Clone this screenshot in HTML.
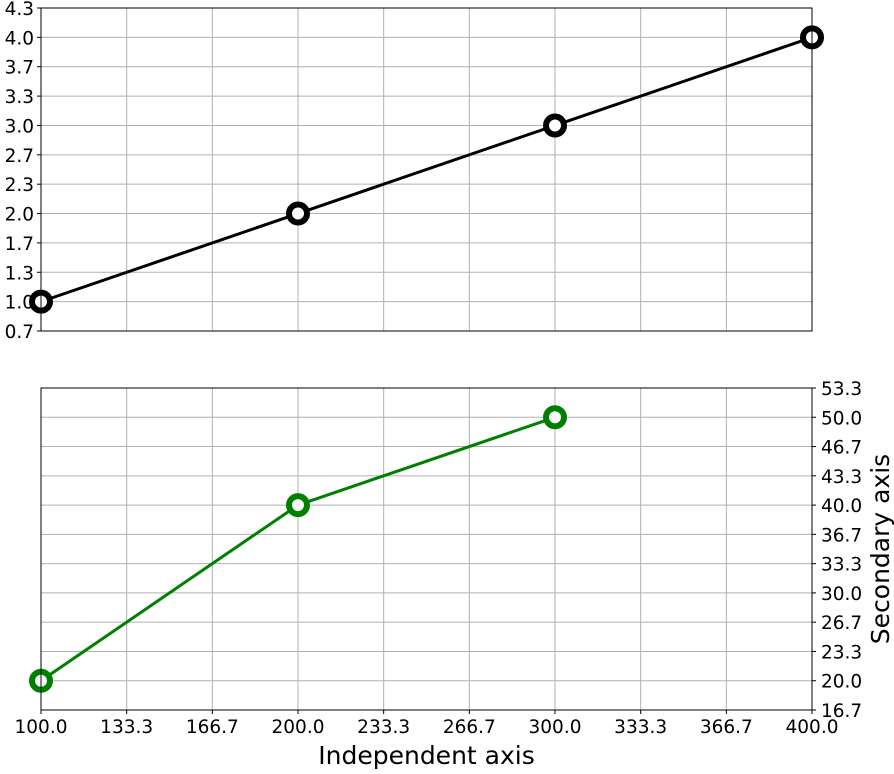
<!DOCTYPE html>
<html><head><meta charset="utf-8"><style>
body{margin:0;background:#fff;}
svg text{font-family:"DejaVu Sans","Liberation Sans",sans-serif;}
</style></head><body>
<svg id="chart" width="894" height="769" xmlns="http://www.w3.org/2000/svg"></svg>
<script>
const xTicks = [100,133.333,166.667,200,233.333,266.667,300,333.333,366.667,400];
const xTickLabels = ["100.0","133.3","166.7","200.0","233.3","266.7","300.0","333.3","366.7","400.0"];
const topTicks = [0.6667,1,1.3333,1.6667,2,2.3333,2.6667,3,3.3333,3.6667,4,4.3333];
const topTickLabels = ["0.7","1.0","1.3","1.7","2.0","2.3","2.7","3.0","3.3","3.7","4.0","4.3"];
const botTicks = [16.667,20,23.333,26.667,30,33.333,36.667,40,43.333,46.667,50,53.333];
const botTickLabels = ["16.7","20.0","23.3","26.7","30.0","33.3","36.7","40.0","43.3","46.7","50.0","53.3"];
const topX = [100,200,300,400];
const topY = [1,2,3,4];
const botX = [100,200,300];
const botY = [20,40,50];

const svg = document.getElementById('chart');
const NS = 'http://www.w3.org/2000/svg';
function mk(tag, attrs, parent){const e=document.createElementNS(NS,tag);for(const k in attrs)e.setAttribute(k,attrs[k]);(parent||svg).appendChild(e);return e;}
const L=41,R=812;
const xs = v => L + (v-100)/300*(R-L);
function panel(top,bot,ymin,ymax,ticks,labels,xv,yv,color,side,showX,name){
  const ys = v => bot - (v-ymin)/(ymax-ymin)*(bot-top);
  const g = mk('g',{});
  
  
  xTicks.forEach((t,i)=>{
    const ln=mk('line',{x1:xs(t),x2:xs(t),y1:top,y2:bot,stroke:'#b0b0b0','stroke-width':1},g);
    
    
    if(showX){
      mk('line',{x1:xs(t),x2:xs(t),y1:bot,y2:bot+4,stroke:'#000','stroke-width':1},g);
      const tx=mk('text',{x:xs(t),y:bot+23,'text-anchor':'middle','font-size':'18.5px'},g);tx.textContent=xTickLabels[i];
      
      }
  });
  ticks.forEach((t,i)=>{
    const y=ys(t);
    const ln=mk('line',{x1:L,x2:R,y1:y,y2:y,stroke:'#b0b0b0','stroke-width':1},g);
    
    
    const tx = side==='left'
      ? mk('text',{x:L-7,y:y+7,'text-anchor':'end','font-size':'18.5px'},g)
      : mk('text',{x:R+9,y:y+7,'text-anchor':'start','font-size':'18.5px'},g);
    if(side==='left') mk('line',{x1:L-4,x2:L,y1:y,y2:y,stroke:'#000'},g);
    else mk('line',{x1:R,x2:R+4,y1:y,y2:y,stroke:'#000'},g);
    tx.textContent=labels[i];
    
    
  });
  const pts = xv.map((x,i)=>xs(x)+','+ys(yv[i])).join(' ');
  const pl=mk('polyline',{points:pts,fill:'none',stroke:color,'stroke-width':3},g);
  
  
  xv.forEach((x,i)=>{
    const c=mk('circle',{cx:xs(x),cy:ys(yv[i]),r:9,fill:'#fff',stroke:color,'stroke-width':6},g);
    
    
  });
  const f=mk('rect',{x:L,y:top,width:R-L,height:bot-top,fill:'none',stroke:'#000','stroke-width':1},g);
  
  
}
panel(8,331,0.6667,4.3333,topTicks,topTickLabels,topX,topY,'#000','left',false,'top-panel');
panel(388,710,16.667,53.333,botTicks,botTickLabels,botX,botY,'#008000','right',true,'bottom-panel');
const xl=mk('text',{x:(L+R)/2,y:764,'text-anchor':'middle','font-size':'25px'});
xl.textContent='Independent axis';


const yl=mk('text',{x:0,y:0,'text-anchor':'middle','font-size':'25px',transform:'translate(889,549) rotate(-90)'});
yl.textContent='Secondary axis';


</script>
</body></html>
